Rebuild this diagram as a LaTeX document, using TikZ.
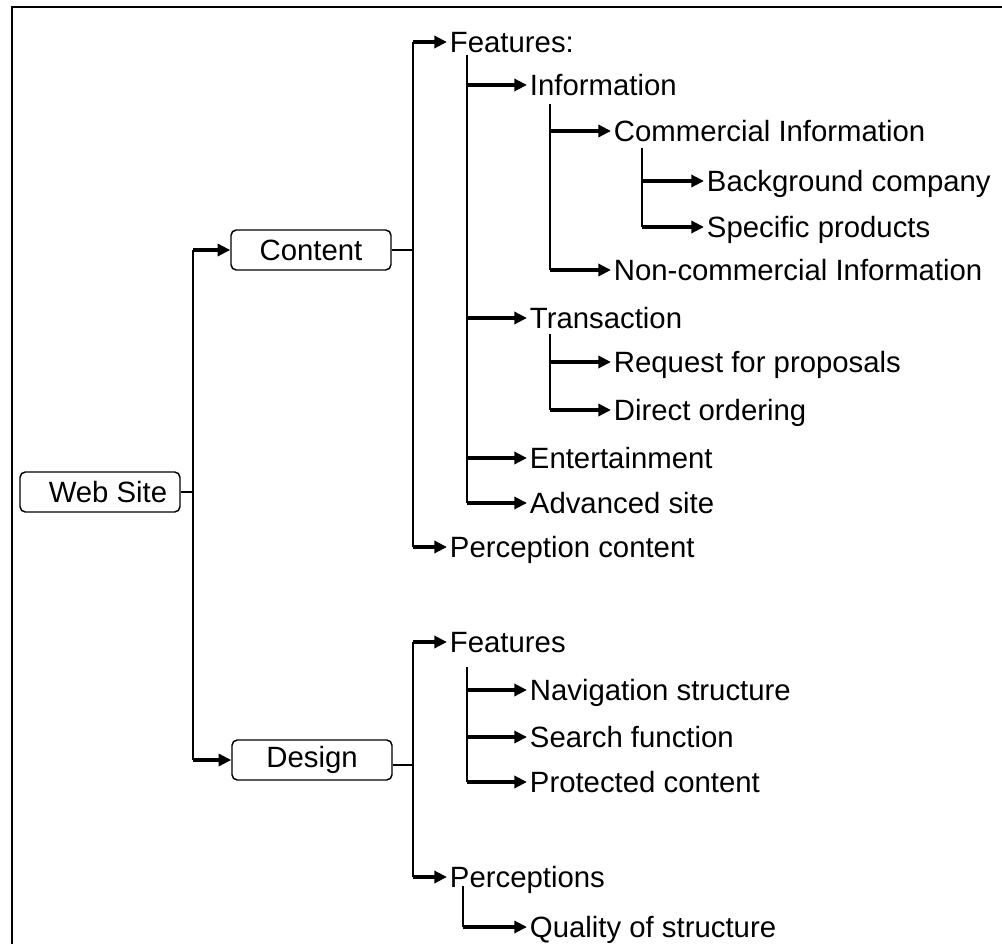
\documentclass[tikz,border=0pt]{standalone}
\usepackage{fontspec}
\setmainfont{Liberation Sans}
\usetikzlibrary{arrows.meta}
\begin{document}
\begin{tikzpicture}[x=0.75pt,y=-0.75pt,
  box/.style={draw, line width=1.1pt, rounded corners=4pt, minimum width=120pt, minimum height=30pt, inner sep=0pt, font=\fontsize{22}{26}\selectfont},
  lbl/.style={anchor=west, inner xsep=2pt, inner ysep=0pt, text height=15.7pt, text depth=0pt, font=\fontsize{22}{26}\selectfont},
  arr/.style={line width=2.4pt, -{Triangle[length=9.5pt,width=9pt]}},
  stem/.style={line width=1.6pt},
  link/.style={line width=1.1pt}]
\useasboundingbox (0,0) rectangle (1002,944);
\draw[line width=1.8pt] (12,944) -- (12,7) -- (1002,7);

% boxes
\node[box] (web) at (100,492) {\hspace{12pt}Web Site};
\node[box] (content) at (311,250) {Content};
\node[box] (design) at (312,760) {Design};

% labels
\node[lbl] (featA) at (447,42) {Features:};
\node[lbl] (info) at (527,85) {Information};
\node[lbl] (comm) at (611,131) {Commercial Information};
\node[lbl] (bg) at (704,181) {Background company};
\node[lbl] (spec) at (704,227) {Specific products};
\node[lbl] (noncomm) at (611,270) {Non-commercial Information};
\node[lbl] (trans) at (527,318) {Transaction};
\node[lbl] (rfp) at (611,362) {Request for proposals};
\node[lbl] (direct) at (611,410) {Direct ordering};
\node[lbl] (ent) at (527,458) {Entertainment};
\node[lbl] (adv) at (527,503) {Advanced site};
\node[lbl] (percA) at (447,547) {Perception content};
\node[lbl] (featB) at (447,642) {Features};
\node[lbl] (nav) at (527,690) {Navigation structure};
\node[lbl] (search) at (527,737) {Search function};
\node[lbl] (prot) at (527,782) {Protected content};
\node[lbl] (percB) at (447,877) {Perceptions};
\node[lbl] (qual) at (527,927) {Quality of structure};

% Web Site -> Content / Design
\coordinate (w0) at (193,492);
\coordinate (w1) at (193,250);
\coordinate (w2) at (193,760);
\draw[link] (web.east) -- (w0);
\draw[stem] (w1) -- (w2);
\draw[arr] (w1) -- (content.west);
\draw[arr] (w2) -- (design.west);

% Content
\coordinate (c0) at (413,250);
\coordinate (c1) at (413,42);
\coordinate (c2) at (413,547);
\draw[link] (content.east) -- (c0);
\draw[stem] (c1) -- (c2);
\draw[arr] (c1) -- (featA.west);
\draw[arr] (c2) -- (percA.west);

% Features (content)
\coordinate (f1) at (467,55);
\coordinate (f2) at (467,503);
\draw[stem] (f1) -- (f2);
\draw[arr] (info.west -| f1) -- (info.west);
\draw[arr] (trans.west -| f1) -- (trans.west);
\draw[arr] (ent.west -| f1) -- (ent.west);
\draw[arr] (adv.west -| f1) -- (adv.west);

% Information
\coordinate (i1) at (550,104);
\coordinate (i2) at (550,270);
\draw[stem] (i1) -- (i2);
\draw[arr] (comm.west -| i1) -- (comm.west);
\draw[arr] (noncomm.west -| i1) -- (noncomm.west);

% Commercial Information
\coordinate (m1) at (642,148);
\coordinate (m2) at (642,227);
\draw[stem] (m1) -- (m2);
\draw[arr] (bg.west -| m1) -- (bg.west);
\draw[arr] (spec.west -| m1) -- (spec.west);

% Transaction
\coordinate (t1) at (550,334);
\coordinate (t2) at (550,410);
\draw[stem] (t1) -- (t2);
\draw[arr] (rfp.west -| t1) -- (rfp.west);
\draw[arr] (direct.west -| t1) -- (direct.west);

% Design
\coordinate (d0) at (413,765);
\coordinate (d1) at (413,642);
\coordinate (d2) at (413,877);
\draw[link] (design.east |- d0) -- (d0);
\draw[stem] (d1) -- (d2);
\draw[arr] (d1) -- (featB.west);
\draw[arr] (d2) -- (percB.west);

% Features (design)
\coordinate (g1) at (467,667);
\coordinate (g2) at (467,782);
\draw[stem] (g1) -- (g2);
\draw[arr] (nav.west -| g1) -- (nav.west);
\draw[arr] (search.west -| g1) -- (search.west);
\draw[arr] (prot.west -| g1) -- (prot.west);

% Perceptions
\coordinate (p1) at (463,886);
\coordinate (p2) at (463,927);
\draw[stem] (p1) -- (p2);
\draw[arr] (p2) -- (qual.west);
\end{tikzpicture}
\end{document}
